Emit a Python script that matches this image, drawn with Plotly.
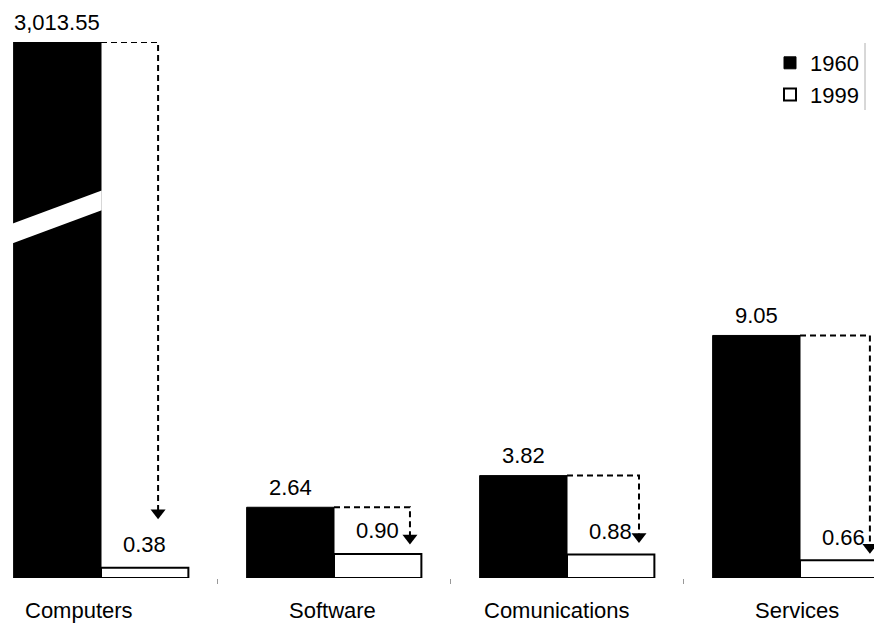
import plotly.graph_objects as go

# Productivity figures by sector, 1960 vs 1999
CATEGORIES = ["Computers", "Software", "Comunications", "Services"]
YEARS = ["1960", "1999"]
VALUES_1960 = [3013.55, 2.64, 3.82, 9.05]
VALUES_1999 = [0.38, 0.90, 0.88, 0.66]

# --- layout / style constants ---
W, H = 874, 624
M_TOP, M_BOT = 42, 46
Y_MAX = 20.0                      # axis top; the Computers 1960 bar is cut off here
PLOT_H = H - M_TOP - M_BOT
PX_PER_UNIT = PLOT_H / Y_MAX
GROUP_PX = 233.0                  # pixel spacing between category centres
FIRST_CENTER_PX = 101.0
X_LO = -FIRST_CENTER_PX / GROUP_PX
X_HI = X_LO + W / GROUP_PX
BAR_W = 0.375

FONT = "Arial, Liberation Sans, sans-serif"
FS = 22

# dashed "drop" arrows: horizontal offset of the descending leg (category units)
# and gap (px) between arrow tip and the 1999 bar top
ARROW_DX = [0.245, 0.326, 0.309, 0.30]
ARROW_GAP_PX = [49, 10, 12, 7]
LABEL_XSHIFT = [-22, -2, -10, -3]

# slanted break through the clipped bar (data units)
BREAK_LEVEL, BREAK_TILT, BREAK_HALF = 13.4, 0.69, 0.37

xs = list(range(len(CATEGORIES)))

fig = go.Figure()
fig.add_trace(go.Bar(
    x=xs, y=VALUES_1960, name=YEARS[0],
    marker=dict(color="black", line=dict(color="black", width=1)),
))
fig.add_trace(go.Bar(
    x=xs, y=VALUES_1999, name=YEARS[1],
    marker=dict(color="white", line=dict(color="black", width=2)),
))

# dashed connectors from 1960 bar top down to the 1999 bar
for i, (a, b) in enumerate(zip(VALUES_1960, VALUES_1999)):
    top = min(a, Y_MAX)
    xa = i + ARROW_DX[i]
    tip = b + ARROW_GAP_PX[i] / PX_PER_UNIT
    head = tip + 6 / PX_PER_UNIT
    fig.add_trace(go.Scatter(
        x=[i, xa, xa], y=[top, top, head], mode="lines",
        line=dict(color="black", width=2, dash="6px,4px"),
        showlegend=False, hoverinfo="skip", cliponaxis=False,
    ))
    fig.add_trace(go.Scatter(
        x=[xa], y=[head], mode="markers",
        marker=dict(symbol="triangle-down", size=13, color="black"),
        showlegend=False, hoverinfo="skip", cliponaxis=False,
    ))

annotations = []
for i, (a, b) in enumerate(zip(VALUES_1960, VALUES_1999)):
    annotations.append(dict(
        x=i - BAR_W / 2, y=min(a, Y_MAX), xref="x", yref="y",
        text=f"{a:,.2f}", showarrow=False, yanchor="middle", yshift=20,
        font=dict(family=FONT, size=FS, color="black"),
    ))
    annotations.append(dict(
        x=i + BAR_W / 2, y=b, xref="x", yref="y",
        text=f"{b:,.2f}", showarrow=False, yanchor="middle", yshift=23,
        font=dict(family=FONT, size=FS, color="black"),
    ))
    annotations.append(dict(
        x=i, y=0, xref="x", yref="y", text=CATEGORIES[i], showarrow=False,
        yanchor="middle", yshift=-32, xshift=LABEL_XSHIFT[i],
        font=dict(family=FONT, size=FS, color="black"),
    ))

# white slanted band marking the broken Computers bar
bx0, bx1 = -BAR_W - 0.05, 0.003
path = (f"M {bx0},{BREAK_LEVEL - BREAK_TILT - BREAK_HALF} "
        f"L {bx1},{BREAK_LEVEL + BREAK_TILT - BREAK_HALF} "
        f"L {bx1},{BREAK_LEVEL + BREAK_TILT + BREAK_HALF} "
        f"L {bx0},{BREAK_LEVEL - BREAK_TILT + BREAK_HALF} Z")
shapes = [
    dict(type="path", path=path, xref="x", yref="y", layer="above",
         fillcolor="white", line=dict(width=0)),
    dict(type="line", xref="paper", yref="paper", x0=865 / W, x1=865 / W,
         y0=1 - (43 - M_TOP) / PLOT_H, y1=1 - (110 - M_TOP) / PLOT_H,
         line=dict(color="#b0b0b0", width=1)),
]

fig.update_layout(
    width=W, height=H,
    margin=dict(l=0, r=0, t=M_TOP, b=M_BOT),
    paper_bgcolor="white", plot_bgcolor="white",
    barmode="group", bargap=0.25, bargroupgap=0,
    font=dict(family=FONT, size=FS, color="black"),
    showlegend=True,
    legend=dict(x=864 / W, xanchor="right", y=1.0, yanchor="top",
                font=dict(family=FONT, size=FS, color="black"),
                bgcolor="rgba(0,0,0,0)", itemwidth=30, tracegroupgap=0),
    xaxis=dict(range=[X_LO, X_HI], showgrid=False, zeroline=False,
               showline=False, showticklabels=False,
               tickmode="array", tickvals=[0.5, 1.5, 2.5],
               ticks="outside", ticklen=5, tickcolor="#999999", tickwidth=1),
    yaxis=dict(range=[0, Y_MAX], visible=False),
    annotations=annotations,
    shapes=shapes,
)

fig.write_html("out.html")
